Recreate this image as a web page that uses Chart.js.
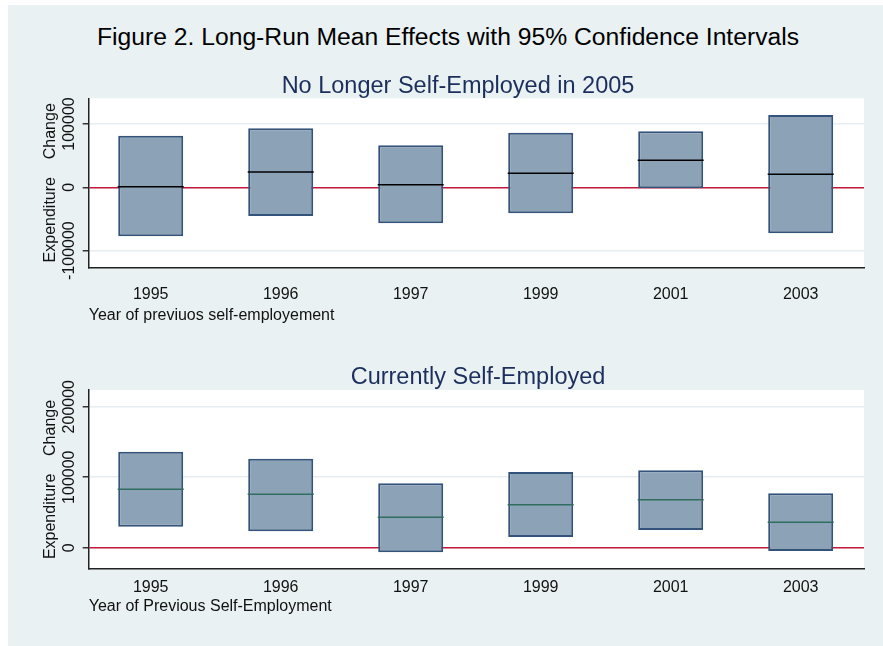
<!DOCTYPE html>
<html><head><meta charset="utf-8">
<script src="https://cdn.jsdelivr.net/npm/chart.js@4/dist/chart.umd.min.js"></script>
<style>
html,body{margin:0;padding:0;background:#fff;width:883px;height:646px;overflow:hidden;position:relative;}
#bg{position:absolute;left:8px;top:5px;width:875px;height:641px;background:#e9f1f3;}
.t{position:absolute;transform:translate(-50%,-50%);white-space:nowrap;font-family:"Liberation Sans",Arial,sans-serif;line-height:normal;z-index:3;}
#main{left:448px;top:37px;font-size:24.7px;color:#000;}
#sub1{left:458px;top:85px;font-size:23.5px;color:#1c2f5c;}
#sub2{left:478px;top:376px;font-size:23.5px;color:#1c2f5c;}
#c1{position:absolute;left:8px;top:90px;z-index:1;}
#c2{position:absolute;left:8px;top:380px;z-index:1;}
</style></head>
<body>
<div id="bg"></div>
<canvas id="c1" width="875" height="240"></canvas>
<canvas id="c2" width="875" height="266"></canvas>
<div class="t" id="main">Figure 2. Long-Run Mean Effects with 95% Confidence Intervals</div>
<div class="t" id="sub1">No Longer Self-Employed in 2005</div>
<div class="t" id="sub2">Currently Self-Employed</div>
<script>
// ---- data ----
const years = ['1995', '1996', '1997', '1999', '2001', '2003'];

const noLongerLow  = [-77400, -45300, -56900, -41100,  -1600, -72700];
const noLongerHigh = [ 81500,  93200,  66300,  86300,  88500, 114200];
const noLongerMean = [  1000,  24200,   4100,  22100,  42700,  20500];

const currentLow  = [ 29800,  23500,  -6500,  15200,  25100,  -4700];
const currentHigh = [136200, 126200,  91300, 107400, 109800,  77200];
const currentMean = [ 82800,  75700,  43100,  61000,  68100,  36000];

const topTicks = [-100000, 0, 100000];
const bottomTicks = [0, 100000, 200000];

const FONT = '"Liberation Sans", Arial, sans-serif';

const plotBg = {
  id: 'plotBg',
  beforeDraw(c) {
    const a = c.chartArea, ctx = c.ctx;
    ctx.save();
    ctx.fillStyle = '#ffffff';
    ctx.fillRect(a.left, a.top, a.right - a.left, a.bottom - a.top);
    ctx.restore();
  }
};

function panel(id, cfg) {
  const pos = years.map((_, i) => i);
  return new Chart(document.getElementById(id), {
    type: 'bar',
    data: {
      datasets: [
        {
          type: 'scatter', order: 0,
          data: pos.map(i => ({ x: i, y: cfg.mean[i] })),
          pointStyle: 'line', pointRadius: 33, pointHoverRadius: 33,
          borderColor: cfg.meanColor, pointBorderColor: cfg.meanColor,
          borderWidth: 1.5, pointBorderWidth: 1.5, clip: false
        },
        {
          type: 'bar', order: 1,
          data: pos.map(i => ({ x: i, y: [cfg.low[i], cfg.high[i]] })),
          backgroundColor: '#8ca2b7', borderColor: '#34537a',
          borderWidth: 2, borderSkipped: false,
          barPercentage: 0.5, categoryPercentage: 1
        }
      ]
    },
    options: {
      responsive: false, animation: false, events: [],
      layout: { autoPadding: false, padding: { left: 32.9, right: 19, top: cfg.padTop, bottom: cfg.padBottom } },
      plugins: { legend: { display: false }, tooltip: { enabled: false }, title: { display: false } },
      scales: {
        x: {
          type: 'linear', min: -0.477, max: 5.487, bounds: 'data', offset: false,
          grid: { display: false, drawTicks: false, offset: false },
          border: { display: true, color: '#222', width: 1.5 },
          afterBuildTicks: s => { s.ticks = pos.map(v => ({ value: v })); },
          ticks: { callback: v => years[v], font: { family: FONT, size: 16 }, color: '#111',
                   padding: cfg.xTickPad, maxRotation: 0, minRotation: 0, autoSkip: false },
          title: { display: true, text: cfg.xTitle, align: 'start', font: { family: FONT, size: 16 },
                   color: '#111', padding: { top: 0, bottom: 0 } },
          afterFit: s => { s.height = cfg.xAxisH; s.paddingLeft = 0; s.paddingRight = 0; }
        },
        y: {
          type: 'linear', min: cfg.yMin, max: cfg.yMax, bounds: 'data',
          afterBuildTicks: s => { s.ticks = cfg.ticks.map(v => ({ value: v })); },
          grid: {
            color: c => (c.tick && c.tick.value === 0) ? '#c1163a' : '#e6eef1',
            lineWidth: 1.5, tickColor: '#333', tickLength: 6, drawTicks: true
          },
          border: { display: true, color: '#222', width: 1.5 },
          ticks: { callback: v => String(v), font: { family: FONT, size: 16 }, color: '#111',
                   minRotation: 90, maxRotation: 90, crossAlign: 'center',
                   padding: cfg.yTickPad, autoSkip: false },
          title: { display: true, text: 'Expenditure    Change', font: { family: FONT, size: 16 },
                   color: '#111', padding: { top: 0, bottom: 0 } },
          afterFit: s => { s.width = 47.8; s.paddingTop = 0; s.paddingBottom = 0; }
        }
      }
    },
    plugins: [plotBg]
  });
}

panel('c1', {
  low: noLongerLow, high: noLongerHigh, mean: noLongerMean, meanColor: '#000000',
  ticks: topTicks, yMin: -126400, yMax: 140600,
  xTitle: 'Year of previuos self-employement',
  padTop: 8.3, padBottom: 5.1, xAxisH: 57.6, xTickPad: 18.1, yTickPad: -16.15
});

panel('c2', {
  low: currentLow, high: currentHigh, mean: currentMean, meanColor: '#2f6d5e',
  ticks: bottomTicks, yMin: -30200, yMax: 223700,
  xTitle: 'Year of Previous Self-Employment',
  padTop: 10, padBottom: 29.7, xAxisH: 47.3, xTickPad: 8.9, yTickPad: -13.5
});
</script>
</body></html>
